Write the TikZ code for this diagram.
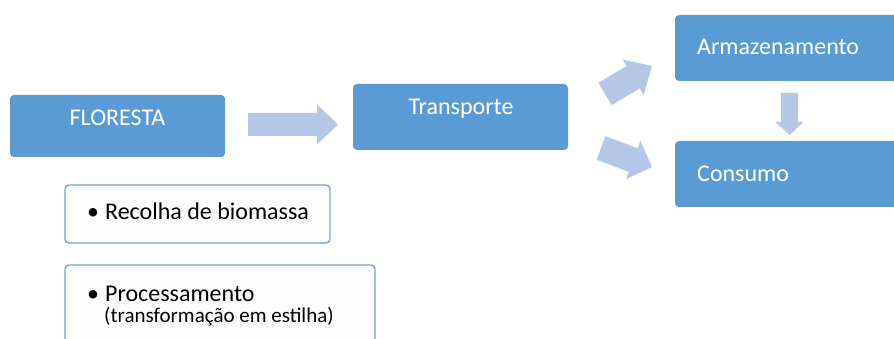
\documentclass[tikz,border=0pt]{standalone}
\usepackage{fontspec}
\setmainfont{Carlito}
\definecolor{boxblue}{HTML}{5B9BD5}
\definecolor{arrowblue}{HTML}{B4C7E7}
\definecolor{listfill}{HTML}{FDFDFD}
\newcommand{\blockarrow}[8]{%
  \begin{scope}[shift={(#2,#3)},rotate=#4]
    \coordinate (#1) at (0,0);
    \fill[arrowblue] (0,-#6) -- (#5-#8,-#6) -- (#5-#8,-#7) -- (#5,0) -- (#5-#8,#7) -- (#5-#8,#6) -- (0,#6) -- cycle;
  \end{scope}}
\tikzset{
  bluebox/.style={draw=none,fill=boxblue,rounded corners=4pt,inner sep=0pt},
  listbox/.style={draw=boxblue!90!white,line width=1.3pt,fill=listfill,rounded corners=4pt,inner sep=0pt},
  boxtext/.style={text=white,font=\fontsize{24}{28}\selectfont,inner sep=0pt},
  listtext/.style={text=black,font=\fontsize{24}{28}\selectfont,inner sep=0pt},
  smalltext/.style={text=black,font=\fontsize{21}{24}\selectfont,inner sep=0pt}
}
\begin{document}
\begin{tikzpicture}[x=1pt,y=-1pt]
\useasboundingbox (0,0) rectangle (894,339);
\clip (0,0) rectangle (894,339);
\fill[white] (0,0) rectangle (894,339);
% blue boxes
\node[bluebox,minimum width=215pt,minimum height=62pt] (flo) at (117.5,126) {};
\node[bluebox,minimum width=215pt,minimum height=66pt] (tra) at (460.5,117) {};
\node[bluebox,minimum width=240pt,minimum height=66pt] (arm) at (795,48) {};
\node[bluebox,minimum width=240pt,minimum height=66pt] (con) at (795,174) {};
% texts
\node[boxtext,anchor=base] (floT) at (117.5,126) {FLORESTA};
\node[boxtext,anchor=base] (traT) at (461,115) {Transporte};
\node[boxtext,anchor=base west] (armT) at (697,55) {Armazenamento};
\node[boxtext,anchor=base west] (conT) at (697,182) {Consumo};
% list boxes
\node[listbox,minimum width=265pt,minimum height=58pt] (rec) at (197.5,214) {};
\node[listbox,minimum width=310pt,minimum height=90pt] (pro) at (220,310) {};
\node[listtext,anchor=base west] (recT) at (87,220) {•\hspace{6pt}Recolha de biomassa};
\node[listtext,anchor=base west] (proT) at (87,301) {•\hspace{6pt}Processamento};
\node[smalltext,anchor=base west] (proS) at (104,322) {(transformação em estilha)};
% block arrows
\blockarrow{a1}{248}{124.5}{0}{90}{11.5}{20}{21}
\blockarrow{a2}{605}{94}{30.8}{54.7}{13}{20.5}{22}
\blockarrow{a3}{601}{148}{-20.4}{54.4}{12.6}{20.5}{20}
\blockarrow{a4}{789.5}{93}{-90}{42}{8.5}{14}{13}
\end{tikzpicture}
\end{document}
